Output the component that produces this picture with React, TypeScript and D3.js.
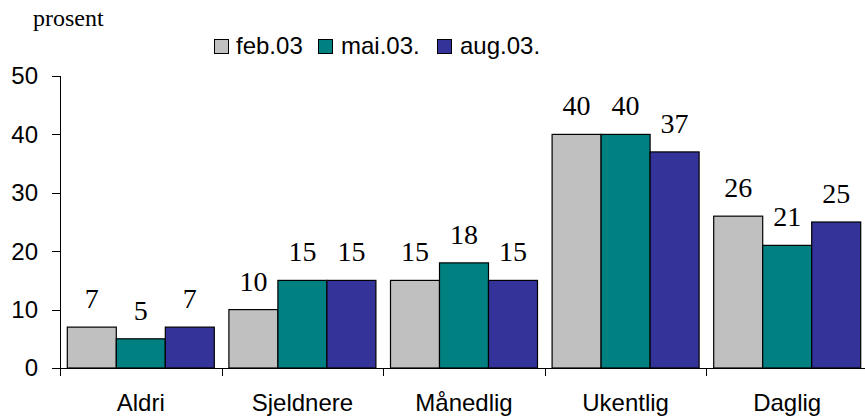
import React from "react";
import * as d3 from "d3";

const categories = ["Aldri", "Sjeldnere", "Månedlig", "Ukentlig", "Daglig"];
const seriesNames = ["feb.03", "mai.03.", "aug.03."];
const feb03 = [7, 10, 15, 40, 26];
const mai03 = [5, 15, 18, 40, 21];
const aug03 = [7, 15, 15, 37, 25];
const yTicks = [0, 10, 20, 30, 40, 50];
const colors = ["#C0C0C0", "#008080", "#333399"];

const W = 865;
const H = 418;

export default function App() {
  const seriesValues = [feb03, mai03, aug03];
  const x = d3.scaleBand<string>().domain(categories).range([60, 868]).padding(0);
  const bw = x.bandwidth();
  const x1 = d3.scaleBand<string>().domain(seriesNames).range([7.3, bw - 7.3]).padding(0);
  const y = d3.scaleLinear().domain([0, 50]).range([368, 76]);
  const sans = "'Liberation Sans', Arial, sans-serif";
  const serif = "'Liberation Serif', 'Times New Roman', serif";

  const legendX = [214, 318, 437];
  const legendTextX = [236, 341, 460];

  return (
    <svg width={W} height={H} style={{ position: "absolute", left: 0, top: 0, background: "#fff" }}>
      <rect x={0} y={0} width={W} height={H} fill="#fff" />
      <text x={33} y={26} fontFamily={serif} fontSize={24} fill="#000">prosent</text>

      {seriesNames.map((s, i) => (
        <g key={s}>
          <rect x={legendX[i] + 0.5} y={39.5} width={14} height={14} fill={colors[i]} stroke="#000" strokeWidth={1} />
          <text x={legendTextX[i]} y={54} fontFamily={sans} fontSize={24} fill="#000">{s}</text>
        </g>
      ))}

      {categories.map((c, ci) => (
        <g key={c}>
          {seriesNames.map((s, si) => {
            const v = seriesValues[si][ci];
            const bx = (x(c) as number) + (x1(s) as number);
            return (
              <g key={s}>
                <rect x={bx} y={y(v)} width={x1.bandwidth()} height={y(0) - y(v)} fill={colors[si]} stroke="#000" strokeWidth={1.2} />
                <text x={bx + x1.bandwidth() / 2} y={y(v) - 19} textAnchor="middle" fontFamily={serif} fontSize={28} fill="#000">{v}</text>
              </g>
            );
          })}
          <text x={(x(c) as number) + bw / 2} y={411} textAnchor="middle" fontFamily={sans} fontSize={24} fill="#000">{c}</text>
        </g>
      ))}

      <line x1={60.5} x2={60.5} y1={y(50)} y2={y(0)} stroke="#000" strokeWidth={1} />
      {yTicks.map((t) => (
        <g key={t}>
          <line x1={52} x2={60.5} y1={Math.round(y(t)) + 0.5} y2={Math.round(y(t)) + 0.5} stroke="#000" strokeWidth={1} />
          <text x={38} y={y(t)} dy="0.35em" textAnchor="end" fontFamily={sans} fontSize={24} fill="#000">{t}</text>
        </g>
      ))}
      <line x1={60} x2={868} y1={368.5} y2={368.5} stroke="#000" strokeWidth={1} />
      {categories.map((c) => (
        <line key={c} x1={Math.round(x(c) as number) + 0.5} x2={Math.round(x(c) as number) + 0.5} y1={368} y2={376} stroke="#000" strokeWidth={1} />
      ))}
    </svg>
  );
}
